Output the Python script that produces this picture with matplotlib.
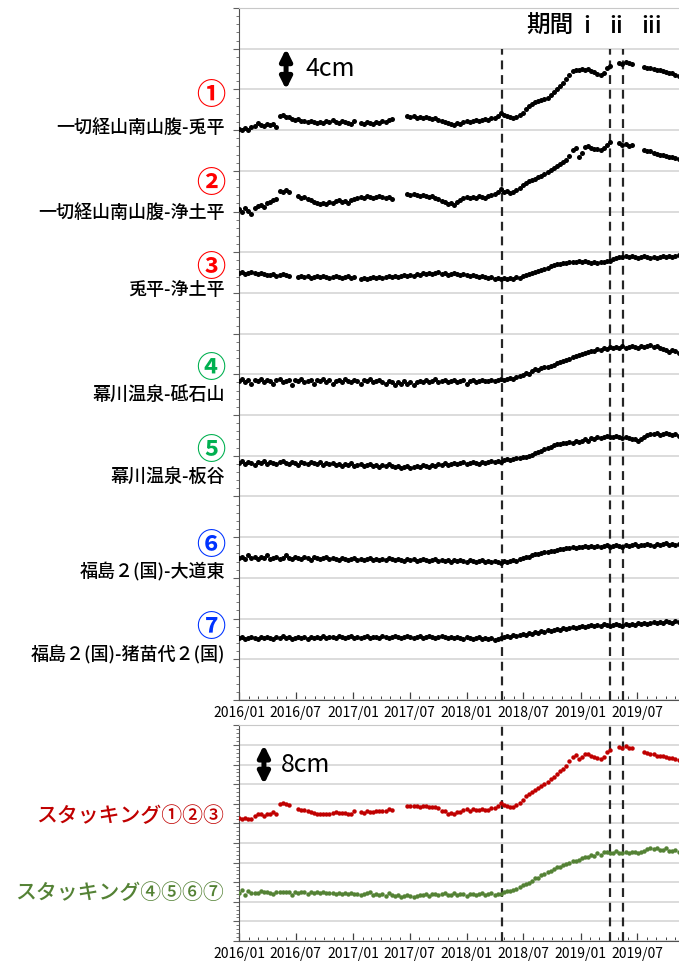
import numpy as np
import matplotlib
matplotlib.use("Agg")
import matplotlib.pyplot as plt
import matplotlib.dates as mdates
from matplotlib import font_manager
from matplotlib.ticker import MultipleLocator, AutoMinorLocator

plt.rcParams['font.family'] = ['Noto Sans CJK JP', 'DejaVu Sans']

nan = np.nan

# Sampling grid: one value every 10 days from 2016/01/01
START = "2016-01-01"
N_SAMPLES = 142
STEP_DAYS = 10

# Baseline length changes (cm), relative to the first sample
s1 = [0.0, -0.1, 0.1, -0.1, 0.2, 0.3, 0.6, 0.4, 0.3, 0.5,
      0.4, 0.5, 0.2, 1.3, 1.4, 1.2, 1.2, 1.0, 0.9, 1.0,
      0.8, 0.8, 0.7, 0.8, 0.7, 0.6, 0.7, 0.6, 0.8, 0.7,
      0.9, 0.7, 0.6, 0.8, 0.7, 0.6, 0.5, 0.8, nan, 0.6,
      0.5, 0.7, 0.6, 0.5, 0.7, 0.6, 0.8, 0.7, 0.9, 1.0,
      nan, nan, nan, nan, 1.3, 1.2, 1.3, 1.1, 1.2, 1.1,
      1.2, 1.1, 1.0, 1.1, 0.9, 0.8, 0.7, 0.6, 0.5, 0.4,
      0.6, 0.5, 0.7, 0.8, 0.7, 0.8, 0.9, 0.8, 0.9, 1.0,
      0.9, 1.1, 1.1, 1.3, 1.6, 1.4, 1.3, 1.2, 1.1, 1.2,
      1.4, 1.6, 2.0, 2.3, 2.5, 2.7, 2.8, 2.9, 3.0, 3.1,
      3.4, 3.6, 3.9, 4.2, 4.5, 4.9, 5.3, 5.7, 5.8, 5.8,
      5.9, 5.8, 5.9, 5.7, 5.6, 5.4, 5.3, 5.5, 6.0, 6.2,
      nan, nan, 6.5, 6.4, 6.6, 6.5, 6.4, nan, nan, nan,
      6.1, 6.0, 6.0, 5.9, 5.8, 5.8, 5.7, 5.6, 5.5, 5.5, 5.3, 5.2]

s2 = [0.0, -0.2, 0.1, -0.1, -0.4, 0.1, 0.3, 0.4, 0.2, 0.6,
      0.7, 0.9, 1.0, 1.8, 1.7, 1.9, 1.7, nan, nan, 1.3,
      1.1, 1.2, 1.0, 0.9, 0.7, 0.6, 0.5, 0.6, 0.5, 0.7,
      0.6, 0.8, 0.9, 0.7, 0.8, 0.6, 0.9, 1.0, 1.1, 1.2,
      1.1, 1.3, 1.2, 1.1, 1.2, 1.3, 1.2, 1.1, 1.2, 1.0,
      nan, nan, nan, nan, 1.5, 1.4, 1.5, 1.4, 1.3, 1.4,
      1.3, 1.2, 1.3, 1.1, 1.0, 0.8, 0.7, 0.5, 0.6, 0.4,
      0.7, 0.9, 1.1, 1.2, 1.1, 1.2, 1.1, 1.3, 1.2, 1.1,
      1.3, 1.4, 1.5, 1.7, 2.0, 1.7, 1.8, 1.6, 1.7, 1.9,
      2.1, 2.4, 2.6, 2.8, 2.9, 3.0, 3.2, 3.3, 3.5, 3.7,
      3.9, 4.1, 4.3, 4.5, 4.7, 4.9, 5.3, 5.8, 6.0, 5.2,
      5.6, 6.1, 6.2, 6.0, 5.9, 5.9, 5.8, 6.0, 6.3, 6.6,
      nan, nan, 6.5, 6.3, 6.4, 6.2, 6.3, nan, nan, nan,
      5.8, 5.7, 5.7, 5.6, 5.5, 5.4, 5.4, 5.3, 5.2, 5.2, 5.1, 5.0]

s3 = [0.0, 0.1, -0.1, 0.0, 0.1, 0.0, -0.1, 0.0, -0.1, -0.2,
      -0.2, -0.1, -0.3, -0.2, -0.1, -0.2, -0.3, nan, nan, -0.4,
      -0.3, -0.4, -0.3, -0.5, -0.4, -0.3, -0.4, -0.3, -0.4, -0.5,
      -0.4, -0.3, -0.4, -0.5, -0.4, -0.3, -0.5, -0.4, nan, -0.6,
      -0.5, -0.6, -0.5, -0.4, -0.5, -0.4, -0.5, -0.4, -0.3, -0.4,
      -0.3, -0.4, -0.3, -0.2, -0.3, -0.2, -0.3, -0.1, -0.2, 0.0,
      -0.1, 0.0, -0.1, 0.0, 0.1, -0.1, 0.0, -0.2, -0.1, 0.0,
      -0.1, -0.2, -0.1, -0.2, -0.3, -0.2, -0.3, -0.4, -0.3, -0.4,
      -0.5, -0.4, -0.6, -0.5, -0.6, -0.5, -0.6, -0.5, -0.6, -0.4,
      -0.5, -0.3, -0.2, -0.1, 0.0, 0.1, 0.2, 0.3, 0.4, 0.5,
      0.6, 0.7, 0.8, 0.8, 0.9, 0.9, 1.0, 1.0, 1.0, 1.1,
      1.0, 1.1, 1.0, 0.9, 1.0, 0.9, 1.0, 1.0, 1.1, 1.1,
      1.3, 1.4, 1.5, 1.5, 1.6, 1.5, 1.6, 1.5, 1.4, 1.5,
      1.6, 1.5, 1.4, 1.5, 1.4, 1.5, 1.6, 1.5, 1.6, 1.5, 1.6, 1.7]

s4 = [0.0, 0.2, -0.1, 0.1, -0.2, 0.1, 0.0, 0.2, -0.1, 0.1,
      0.0, -0.2, 0.1, 0.2, -0.1, 0.0, 0.1, -0.3, 0.1, 0.0,
      0.2, -0.1, 0.0, 0.1, -0.2, 0.1, 0.0, 0.2, -0.1, 0.1,
      -0.2, 0.0, 0.1, -0.1, 0.2, 0.0, -0.1, 0.1, 0.0, -0.2,
      0.1, 0.0, 0.2, -0.1, 0.0, 0.1, -0.1, -0.2, 0.0, -0.1,
      -0.3, -0.1, -0.2, 0.0, -0.2, -0.1, -0.3, -0.1, 0.0, -0.1,
      0.1, -0.1, 0.0, 0.2, -0.1, 0.0, 0.1, -0.1, 0.0, 0.1,
      -0.1, 0.0, 0.1, -0.2, 0.0, 0.1, -0.1, 0.0, 0.1, 0.0,
      0.0, 0.1, 0.0, 0.1, 0.2, 0.1, 0.2, 0.3, 0.2, 0.4,
      0.5, 0.6, 0.8, 0.7, 1.0, 1.2, 1.1, 1.3, 1.4, 1.4,
      1.5, 1.6, 1.8, 1.9, 2.0, 2.1, 2.2, 2.4, 2.5, 2.6,
      2.7, 2.8, 2.9, 3.0, 3.0, 3.2, 3.1, 3.3, 3.2, 3.4,
      3.3, 3.4, 3.3, 3.5, 3.3, 3.4, 3.5, 3.4, 3.3, 3.5,
      3.4, 3.5, 3.6, 3.4, 3.5, 3.3, 3.2, 3.1, 2.9, 3.1, 3.0, 2.8]

s5 = [0.0, 0.2, -0.1, 0.1, 0.0, -0.2, 0.1, 0.0, 0.2, -0.1,
      0.1, 0.0, -0.1, 0.1, 0.2, 0.0, -0.1, 0.1, 0.0, -0.2,
      0.1, 0.0, -0.1, 0.1, 0.0, -0.1, 0.1, -0.2, 0.0, -0.1,
      0.0, -0.2, -0.1, -0.3, -0.1, -0.2, 0.0, -0.3, -0.2, -0.1,
      -0.3, -0.2, -0.1, -0.3, -0.2, -0.4, -0.2, -0.3, -0.1, -0.3,
      -0.4, -0.3, -0.5, -0.4, -0.3, -0.5, -0.4, -0.3, -0.4, -0.2,
      -0.3, -0.4, -0.2, -0.3, -0.1, -0.2, 0.0, -0.2, -0.1, 0.0,
      -0.1, 0.0, 0.1, -0.1, 0.0, 0.1, 0.0, -0.1, 0.1, 0.0,
      0.1, 0.2, 0.1, 0.2, 0.1, 0.3, 0.4, 0.3, 0.4, 0.5,
      0.5, 0.6, 0.6, 0.7, 0.8, 1.0, 1.1, 1.2, 1.4, 1.5,
      1.6, 1.8, 1.9, 1.9, 2.0, 2.0, 2.1, 2.0, 2.2, 2.1,
      2.2, 2.3, 2.2, 2.4, 2.3, 2.5, 2.4, 2.5, 2.6, 2.5,
      2.5, 2.6, 2.5, 2.4, 2.5, 2.4, 2.3, 2.3, 2.2, 2.3,
      2.5, 2.7, 2.8, 2.8, 2.9, 2.7, 2.8, 2.9, 2.8, 2.7, 2.8, 2.6]

s6 = [0.0, 0.1, -0.1, 0.2, 0.0, 0.1, -0.1, 0.1, 0.0, 0.2,
      -0.1, 0.0, 0.1, -0.1, 0.0, 0.2, 0.0, -0.1, 0.1, 0.0,
      -0.1, 0.1, 0.0, -0.2, 0.1, 0.0, -0.1, 0.0, 0.1, -0.1,
      0.0, -0.1, -0.2, 0.0, -0.1, -0.2, -0.1, 0.0, -0.2, -0.1,
      -0.2, -0.1, 0.0, -0.2, -0.1, -0.2, -0.1, -0.2, 0.0, -0.1,
      -0.2, -0.1, -0.2, -0.3, -0.1, -0.2, -0.1, -0.3, -0.2, -0.1,
      -0.2, -0.3, -0.2, -0.1, -0.3, -0.2, -0.3, -0.2, -0.4, -0.2,
      -0.3, -0.2, -0.3, -0.4, -0.2, -0.3, -0.4, -0.3, -0.2, -0.4,
      -0.3, -0.4, -0.3, -0.4, -0.5, -0.3, -0.4, -0.3, -0.2, -0.3,
      -0.1, 0.0, 0.1, 0.1, 0.2, 0.3, 0.3, 0.4, 0.5, 0.5,
      0.6, 0.6, 0.7, 0.8, 0.8, 0.9, 0.9, 1.0, 0.9, 1.0,
      1.0, 1.1, 1.0, 1.1, 1.0, 1.1, 1.0, 1.1, 1.2, 1.0,
      1.1, 1.2, 1.1, 1.0, 1.2, 1.1, 1.2, 1.3, 1.1, 1.2,
      1.2, 1.3, 1.2, 1.1, 1.3, 1.2, 1.3, 1.4, 1.2, 1.3, 1.2, 1.3]

s7 = [0.0, 0.1, -0.1, 0.0, 0.1, 0.0, -0.1, 0.1, 0.0, 0.1,
      0.0, -0.1, 0.1, 0.0, 0.2, 0.0, 0.1, -0.1, 0.0, 0.1,
      0.0, 0.1, -0.1, 0.1, 0.0, 0.1, 0.0, 0.2, 0.0, 0.1,
      0.1, 0.0, 0.2, 0.1, 0.0, 0.1, 0.2, 0.0, 0.1, 0.0,
      0.1, 0.2, 0.0, 0.1, 0.1, 0.0, 0.2, 0.1, 0.0, 0.1,
      0.2, 0.1, 0.0, 0.1, 0.2, 0.1, 0.0, 0.1, 0.2, 0.0,
      0.1, 0.2, 0.1, 0.0, 0.1, 0.2, 0.1, 0.0, 0.1, 0.0,
      0.1, 0.0, -0.1, 0.1, 0.0, -0.1, 0.0, 0.1, -0.1, 0.0,
      -0.1, 0.0, -0.2, -0.1, 0.0, 0.1, 0.2, 0.1, 0.3, 0.2,
      0.3, 0.4, 0.3, 0.5, 0.4, 0.6, 0.5, 0.7, 0.6, 0.8,
      0.7, 0.8, 0.9, 0.8, 1.0, 0.9, 1.0, 1.1, 1.0, 1.1,
      1.2, 1.1, 1.2, 1.3, 1.2, 1.3, 1.2, 1.4, 1.3, 1.2,
      1.3, 1.4, 1.3, 1.2, 1.4, 1.3, 1.4, 1.3, 1.5, 1.4,
      1.5, 1.4, 1.5, 1.6, 1.5, 1.6, 1.5, 1.7, 1.6, 1.5, 1.7, 1.6]

station_pairs = ["一切経山南山腹-兎平", "一切経山南山腹-浄土平", "兎平-浄土平",
                 "幕川温泉-砥石山", "幕川温泉-板谷",
                 "福島２(国)-大道東", "福島２(国)-猪苗代２(国)"]
pair_numbers = ["①", "②", "③", "④", "⑤", "⑥", "⑦"]
stack_labels = ["スタッキング①②③", "スタッキング④⑤⑥⑦"]
period_labels = ["期間", "i", "ii", "iii"]
event_dates = ["2018-04-23", "2019-04-05", "2019-05-16"]
tick_months = ["2016-01", "2016-07", "2017-01", "2017-07",
               "2018-01", "2018-07", "2019-01", "2019-07"]

# Display layout: vertical offset (cm) of each trace within its panel
offsets_top = [56.1, 48.2, 42.0, 31.3, 23.3, 14.0, 6.1]
offsets_bottom = [25.1, 9.8]
number_colors = ["#ff0000", "#ff0000", "#ff0000", "#00b050", "#00b050", "#0033ff", "#0033ff"]
stack_colors = ["#c00000", "#548235"]

series = [np.array(s, dtype=float) for s in (s1, s2, s3, s4, s5, s6, s7)]
stack_a = series[0] + series[1] + series[2]
stack_b = series[3] + series[4] + series[5] + series[6]

dates = np.datetime64(START) + np.arange(N_SAMPLES) * np.timedelta64(STEP_DAYS, "D")
xd = mdates.date2num(dates)
x0 = mdates.date2num(np.datetime64(START))
x1 = x0 + 1411.6


def has_font(name):
    try:
        font_manager.findfont(name, fallback_to_default=False)
        return True
    except ValueError:
        return False


narrow = 'Liberation Sans Narrow' if has_font('Liberation Sans Narrow') else 'Noto Sans CJK JP'

W, H = 679, 964
fig = plt.figure(figsize=(W / 100, H / 100), dpi=100)
ax1 = fig.add_axes([239 / W, 1 - 700 / H, 440 / W, 692 / H])
ax2 = fig.add_axes([239 / W, 1 - 941 / H, 440 / W, 215.6 / H])


def style_axis(ax, ytop):
    ax.set_xlim(x0, x1)
    ax.set_ylim(0, ytop)
    ax.yaxis.set_major_locator(MultipleLocator(4))
    ax.yaxis.set_minor_locator(AutoMinorLocator(5))
    ax.yaxis.set_tick_params(which='both', direction='out', labelleft=False,
                             color='#606060')
    ax.yaxis.set_tick_params(which='major', length=4, width=0.8)
    ax.yaxis.set_tick_params(which='minor', length=2.5, width=0.6)
    ax.xaxis.set_minor_locator(mdates.MonthLocator())
    ax.set_xticks(mdates.date2num(np.array(tick_months, dtype='datetime64[D]')))
    ax.xaxis.set_major_formatter(mdates.DateFormatter('%Y/%m'))
    ax.xaxis.set_tick_params(which='both', direction='in', color='#404040')
    ax.xaxis.set_tick_params(which='major', length=6, width=0.9, pad=4,
                             labelsize=10, labelfontfamily=narrow)
    ax.xaxis.set_tick_params(which='minor', length=3, width=0.7)
    ax.grid(axis='y', which='major', color='#d9d9d9', lw=1.3)
    ax.set_axisbelow(True)
    ax.spines['right'].set_visible(False)
    ax.spines['top'].set_color('#c8c8c8')
    ax.spines['left'].set_color('#505050')
    ax.spines['bottom'].set_color('#505050')


style_axis(ax1, 68)
style_axis(ax2, 44)

ev = mdates.date2num(np.array(event_dates, dtype='datetime64[D]'))
dash = (0, (4, 2.6))
ax1.vlines(ev, 0, 64, colors='#262626', linestyles=[dash], lw=1.6, zorder=3)
for e in ev:
    ax2.axvline(e, color='#262626', ls=dash, lw=1.6, zorder=3)

for s, off in zip(series, offsets_top):
    ax1.plot(xd, off + s, ls='none', marker='o', ms=3.6, mew=0, color='black', zorder=4)
for s, off, c in zip((stack_a, stack_b), offsets_bottom, stack_colors):
    ax2.plot(xd, off + s, ls='none', marker='o', ms=3.2, mew=0, color=c, zorder=4)

# scale bars
arrow = dict(arrowstyle='<|-|>', lw=3.6, color='black', mutation_scale=17,
             shrinkA=0, shrinkB=0)
ax1.annotate('', xy=(x0 + 151, 60), xytext=(x0 + 151, 64), arrowprops=arrow)
ax1.text(x0 + 212, 62.0, '4cm', fontsize=18, ha='left', va='center', family=narrow)
ax2.annotate('', xy=(x0 + 80, 32), xytext=(x0 + 80, 40), arrowprops=arrow)
ax2.text(x0 + 135, 36.0, '8cm', fontsize=18, ha='left', va='center', family=narrow)

# period labels
for lab, d in zip(period_labels, [998, 1116, 1209, 1322]):
    ax1.text(x0 + d, 66.2, lab, fontsize=17, ha='center', va='center', fontweight='medium')

# left labels
num_y = [95, 183, 267, 368, 450, 545, 627]
name_y = [128, 213, 290, 395, 477, 572, 655]
for num, name, c, ny, my in zip(pair_numbers, station_pairs, number_colors, num_y, name_y):
    fig.text(225 / W, 1 - ny / H, num, color=c, fontsize=21, ha='right', va='center',
             fontweight='bold')
    fig.text(225 / W, 1 - my / H, name, color='black', fontsize=13, ha='right',
             va='center', fontweight='medium')

for lab, c, y in zip(stack_labels, stack_colors, [816, 893]):
    fig.text(224 / W, 1 - y / H, lab, color=c, fontsize=15, ha='right', va='center',
             fontweight='medium')

fig.savefig('out.png', dpi=100)
